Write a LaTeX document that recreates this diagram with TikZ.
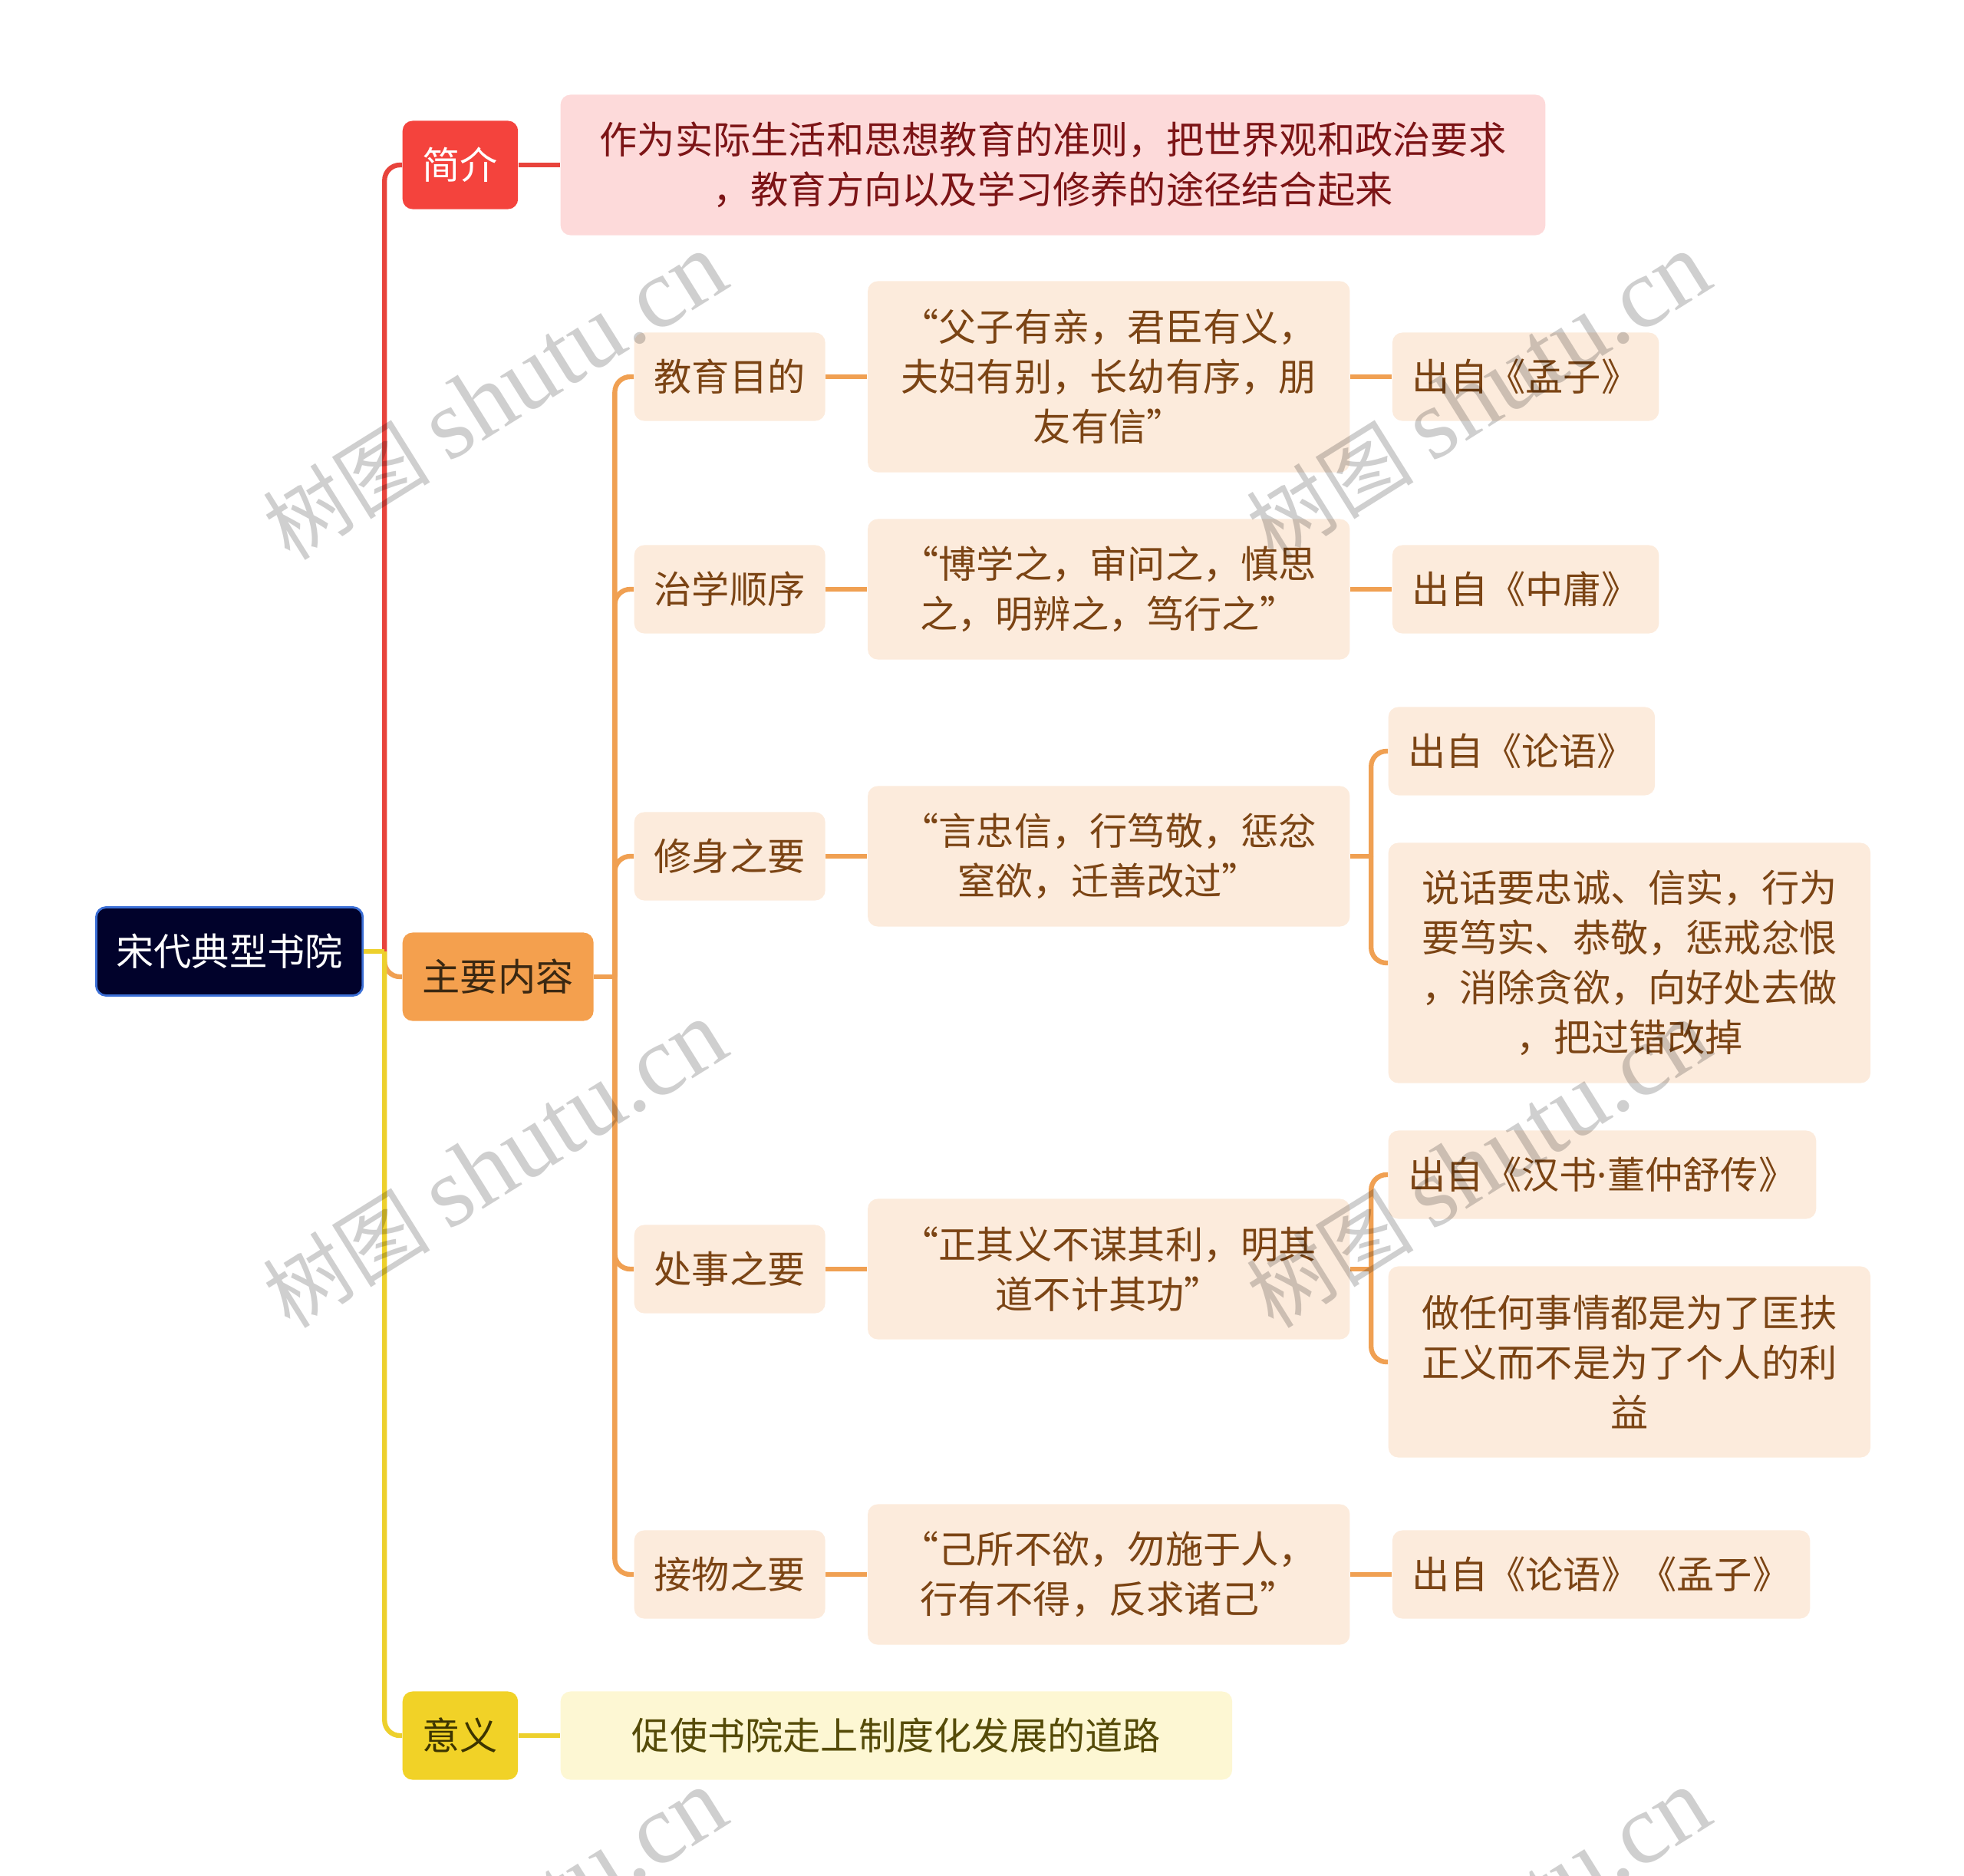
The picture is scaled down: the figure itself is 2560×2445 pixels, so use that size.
\documentclass[tikz,border=0pt]{standalone}
\usepackage{fontspec}
\setmainfont{Noto Sans CJK SC}
\newfontfamily\wmlatin{Liberation Serif}
\newfontfamily\dotfont{Noto Sans}
\usepackage{xcolor}
\usepackage{tikz}
\usetikzlibrary{positioning}
\definecolor{sdnavy}{HTML}{01022B}
\definecolor{sdblue}{HTML}{3B6FD6}
\definecolor{sdred}{HTML}{F4433D}
\definecolor{sdredline}{HTML}{E8433C}
\definecolor{sdpink}{HTML}{FDDADA}
\definecolor{sdwine}{HTML}{7C1416}
\definecolor{sdorange}{HTML}{F4A04E}
\definecolor{sdorangeline}{HTML}{F0A052}
\definecolor{sdcocoa}{HTML}{3A2812}
\definecolor{sdcream}{HTML}{FCEBDC}
\definecolor{sdbrown}{HTML}{7B4414}
\definecolor{sdyellow}{HTML}{F1D227}
\definecolor{sdyellowline}{HTML}{EDD02C}
\definecolor{sdolive}{HTML}{3C3400}
\definecolor{sdlemon}{HTML}{FDF7D3}
\definecolor{sdmoss}{HTML}{554B08}
\newcommand{\boxfont}{\fontsize{14pt}{18.45pt}\selectfont}

\begin{document}
\begin{tikzpicture}[x=0.01cm, y=-0.01cm,
    topic/.style={rounded corners=0.13cm, inner xsep=0.26cm, inner ysep=0pt, minimum height=1.15cm, align=center, font=\boxfont},
    rootbox/.style={topic, fill=sdnavy, draw=sdblue, line width=0.8pt, text=white},
    leaf/.style={topic, fill=sdcream, text=sdbrown},
    saying/.style={leaf, minimum width=6.28cm},
    branch/.style={line width=1.8pt, rounded corners=0.2cm},
    wmark/.style={rotate=32, text=black, text opacity=0.19, inner sep=0pt, font=\fontsize{31pt}{31pt}\selectfont},
    node distance=0.54cm and 0.54cm
  ]
    \useasboundingbox (0,0) rectangle (2560,2445);

    \node[rootbox, anchor=west] (root) at (124,1240) {宋代典型书院};

    \node[topic, fill=sdred, text=white, anchor=west] (intro) at (524,215) {简介};
    \node[topic, fill=sdpink, text=sdwine, minimum width=12.83cm, minimum height=1.83cm, right=of intro] (introtxt) {作为实际生活和思想教育的准则，把世界观和政治要求\\，教育方向以及学习修养的途径结合起来};

    \node[topic, fill=sdorange, text=sdcocoa, anchor=west] (main) at (524,1273) {主要内容};

    \node[topic, fill=sdyellow, text=sdolive, anchor=west] (sig) at (524,2262) {意义};
    \node[topic, fill=sdlemon, text=sdmoss, minimum width=8.75cm, right=of sig] (sigtxt) {促使书院走上制度化发展的道路};

    \node[leaf, anchor=west] (aim) at (826,491) {教育目的};
    \node[saying, minimum height=2.49cm, right=of aim] (aimq) {“父子有亲，君臣有义，\\夫妇有别，长幼有序，朋\\友有信”};
    \node[leaf, right=of aimq] (aimsrc) {出自《孟子》};

    \node[leaf, anchor=west] (order) at (826,768) {治学顺序};
    \node[saying, minimum height=1.83cm, right=of order] (orderq) {“博学之，审问之，慎思\\之，明辨之，笃行之”};
    \node[leaf, right=of orderq] (ordersrc) {出自《中庸》};

    \node[leaf, anchor=west] (self) at (826,1116) {修身之要};
    \node[saying, minimum height=1.83cm, right=of self] (selfq) {“言忠信，行笃敬，惩忿\\窒欲，迁善改过”};
    \node[leaf, anchor=west] (selfsrc) at (1809,979) {出自《论语》};
    \node[leaf, anchor=west, minimum width=6.28cm, minimum height=3.13cm] (selfexp) at (1809,1255) {说话要忠诚、信实，行为\\要笃实、恭敬，惩戒忿恨\\，消除贪欲，向好处去做\\，把过错改掉};

    \node[leaf, anchor=west] (deal) at (826,1654) {处事之要};
    \node[saying, minimum height=1.83cm, right=of deal] (dealq) {“正其义不谋其利，明其\\道不计其功”};
    \node[leaf, anchor=west] (dealsrc) at (1809,1531) {出自《汉书{\dotfont ·}董仲舒传》};
    \node[leaf, anchor=west, minimum width=6.28cm, minimum height=2.49cm] (dealexp) at (1809,1775) {做任何事情都是为了匡扶\\正义而不是为了个人的利\\益};

    \node[leaf, anchor=west] (treat) at (826,2052) {接物之要};
    \node[saying, minimum height=1.83cm, right=of treat] (treatq) {“己所不欲，勿施于人，\\行有不得，反求诸己”};
    \node[leaf, right=of treatq] (treatsrc) {出自《论语》《孟子》};

    % root branches
    \coordinate (rj) at ([xshift=0.27cm]root.east);
    \draw[branch, sdredline] (rj) |- (intro.west);
    \draw[branch, sdorangeline] (rj) |- (main.west);
    \draw[branch, sdyellowline] (rj) |- (sig.west);
    \draw[branch, sdyellowline] (root.east) -- (rj);
    \draw[branch, sdredline] (intro.east) -- (introtxt.west);
    \draw[branch, sdyellowline] (sig.east) -- (sigtxt.west);

    % main content
    \coordinate (mj) at ([xshift=0.27cm]main.east);
    \draw[branch, sdorangeline] (main.east) -- (mj);
    \foreach \t in {aim,order,self,deal,treat}
      \draw[branch, sdorangeline] (mj) |- (\t.west);
    \draw[branch, sdorangeline] (aim.east) -- (aimq.west);
    \draw[branch, sdorangeline] (order.east) -- (orderq.west);
    \draw[branch, sdorangeline] (self.east) -- (selfq.west);
    \draw[branch, sdorangeline] (deal.east) -- (dealq.west);
    \draw[branch, sdorangeline] (treat.east) -- (treatq.west);

    \draw[branch, sdorangeline] (aimq.east) -- (aimsrc.west);
    \draw[branch, sdorangeline] (orderq.east) -- (ordersrc.west);
    \draw[branch, sdorangeline] (treatq.east) -- (treatsrc.west);
    \coordinate (sj) at ([xshift=0.27cm]selfq.east);
    \draw[branch, sdorangeline] (selfq.east) -- (sj);
    \draw[branch, sdorangeline] (sj) |- (selfsrc.west);
    \draw[branch, sdorangeline] (sj) |- (selfexp.west);
    \coordinate (dj) at ([xshift=0.27cm]dealq.east);
    \draw[branch, sdorangeline] (dealq.east) -- (dj);
    \draw[branch, sdorangeline] (dj) |- (dealsrc.west);
    \draw[branch, sdorangeline] (dj) |- (dealexp.west);

    % watermark
    \foreach \wx in {645,1927}
      \foreach \wy in {517,1518,2519}
        \node[wmark] at (\wx,\wy) {树图 {\wmlatin\fontsize{37pt}{37pt}\selectfont shutu.cn}};
\end{tikzpicture}
\end{document}
